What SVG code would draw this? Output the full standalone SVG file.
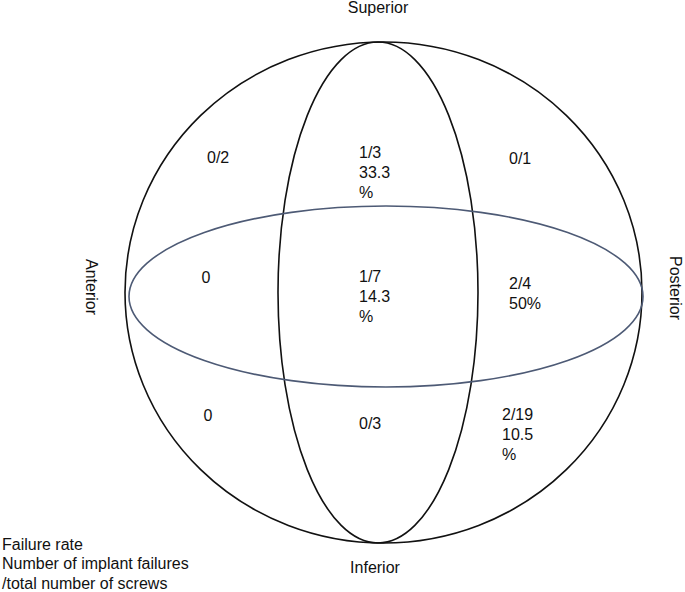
<svg xmlns="http://www.w3.org/2000/svg" width="685" height="592" viewBox="0 0 685 592">
<style>
text{font-family:"Liberation Sans",Arial,sans-serif;font-size:16px;fill:#111}
.outline{fill:none;stroke:#111;stroke-width:1.6}
.band{fill:none;stroke:#4d5a75;stroke-width:1.6}
</style>
<rect width="685" height="592" fill="#fff"/>
<g id="sphere">
<ellipse id="outer" class="outline" cx="383.5" cy="292.5" rx="258.5" ry="250.5"/>
<ellipse id="sagittal" class="outline" cx="378" cy="292.5" rx="100" ry="250.5"/>
<ellipse id="equator" class="band" cx="386" cy="296.5" rx="257" ry="90.5"/>
</g>
<g id="labels">
<text x="378" y="13" text-anchor="middle">Superior</text>
<text x="375" y="573" text-anchor="middle">Inferior</text>
<text transform="translate(86,287) rotate(90)" text-anchor="middle">Anterior</text>
<text transform="translate(670,288) rotate(90)" text-anchor="middle">Posterior</text>
</g>
<g id="cells">
<text x="207" y="163">0/2</text>
<text x="359" y="158">1/3<tspan x="359" dy="20">33.3</tspan><tspan x="359" dy="20">%</tspan></text>
<text x="509" y="164">0/1</text>
<text x="206" y="283" text-anchor="middle">0</text>
<text x="359" y="282">1/7<tspan x="359" dy="20">14.3</tspan><tspan x="359" dy="20">%</tspan></text>
<text x="509" y="289">2/4<tspan x="509" dy="20">50%</tspan></text>
<text x="208" y="421" text-anchor="middle">0</text>
<text x="359" y="429">0/3</text>
<text x="502" y="420">2/19<tspan x="502" dy="20">10.5</tspan><tspan x="502" dy="20">%</tspan></text>
</g>
<g id="legend">
<text x="2" y="550">Failure rate</text>
<text x="2" y="569">Number of implant failures</text>
<text x="2" y="589">/total number of screws</text>
</g>
</svg>
